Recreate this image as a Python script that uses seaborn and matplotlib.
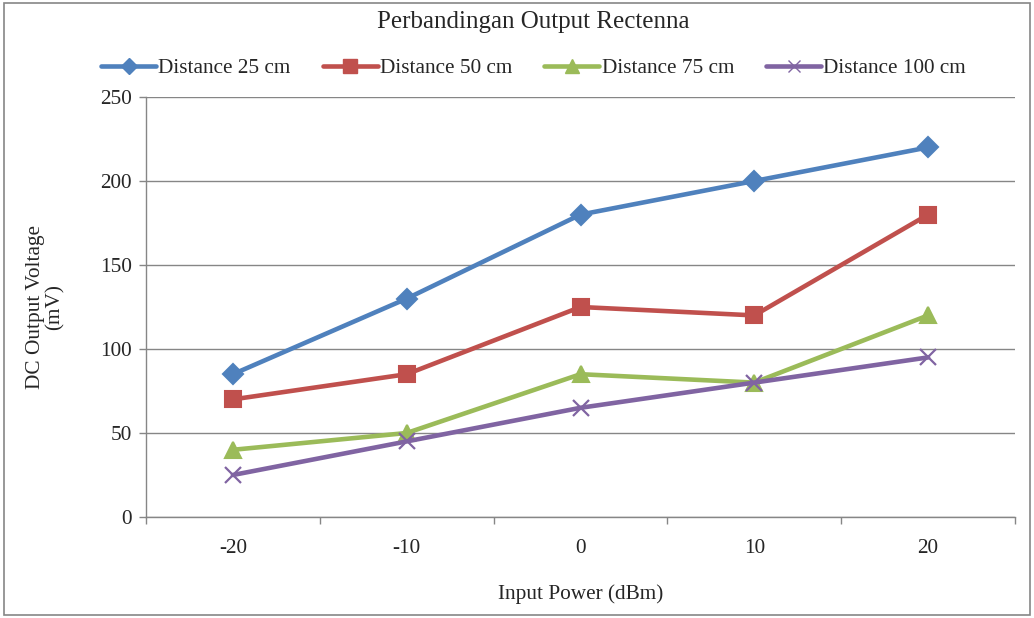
import matplotlib
matplotlib.use("Agg")
import matplotlib.pyplot as plt
import seaborn as sns
import pandas as pd
from matplotlib.lines import Line2D
from matplotlib.patches import Rectangle
from matplotlib.ticker import FixedLocator

categories = ["-20", "-10", "0", "10", "20"]
series_names = ["Distance 25 cm", "Distance 50 cm", "Distance 75 cm", "Distance 100 cm"]
d25 = [85, 130, 180, 200, 220]
d50 = [70, 85, 125, 120, 180]
d75 = [40, 50, 85, 80, 120]
d100 = [25, 45, 65, 80, 95]
y_ticks = [0, 50, 100, 150, 200, 250]

colors = ["#4F81BD", "#C0504D", "#9BBB59", "#8064A2"]
markers = ["D", "s", "^", "x"]
msizes = [10, 12, 12, 11]

sns.set_theme(style="white")
plt.rcParams['font.family'] = ['Liberation Serif', 'DejaVu Serif']

rows = []
for name, vals in zip(series_names, [d25, d50, d75, d100]):
    for i, (c, v) in enumerate(zip(categories, vals)):
        rows.append({"pos": i, "cat": c, "value": v, "series": name})
df = pd.DataFrame(rows)

fs = 15.3

fig = plt.figure(figsize=(10.34, 6.18), dpi=100)
ax = fig.add_axes([146/1034, 1-517/618, (1015-146)/1034, (517-97)/618])

for name, col, mk, ms in zip(series_names, colors, markers, msizes):
    sub = df[df["series"] == name]
    sns.lineplot(data=sub, x="pos", y="value", ax=ax, color=col, linewidth=3.3,
                 marker=mk, markersize=ms, markeredgecolor=col, markerfacecolor=col,
                 markeredgewidth=1.5 if mk != "x" else 1.6, legend=False)

ax.set_xlim(-0.5, 4.5)
ax.set_ylim(0, 250)
ax.set_yticks(y_ticks)
ax.set_yticklabels([str(t) for t in y_ticks], fontsize=fs)
ax.set_xticks(range(len(categories)))
ax.set_xticklabels(categories, fontsize=fs)
ax.tick_params(axis='x', which='major', length=0, pad=16)
ax.xaxis.set_minor_locator(FixedLocator([i - 0.5 for i in range(len(categories) + 1)]))
ax.tick_params(axis='x', which='minor', length=5, color="#868686", width=1, direction='out', bottom=True)
ax.tick_params(axis='y', which='major', length=5, color="#868686", width=1, direction='out', left=True, pad=5)
ax.grid(axis='y', color="#868686", linewidth=1)
ax.set_axisbelow(True)
for s in ["top", "right"]:
    ax.spines[s].set_visible(False)
for s in ["left", "bottom"]:
    ax.spines[s].set_color("#868686")
    ax.spines[s].set_linewidth(1)

ax.set_xlabel("Input Power (dBm)", fontsize=fs, labelpad=19)
ax.set_ylabel("DC Output Voltage\n(mV)", fontsize=fs, labelpad=26, linespacing=1.0)
fig.text(0.516, 1-22/618, "Perbandingan Output Rectenna", ha="center", va="center", fontsize=18)

handles = [Line2D([0], [0], color=c, lw=3.3, marker=m, markersize=ms*0.8,
                  markeredgecolor=c, markerfacecolor=c) for c, m, ms in zip(colors, markers, msizes)]
fig.legend(handles, series_names, loc="center", bbox_to_anchor=(0.516, 1-68/618), ncol=4,
           frameon=False, fontsize=fs, handlelength=2.6, handletextpad=0.1, columnspacing=1.5)

fig.add_artist(Rectangle((0.004, 0.005), 0.992, 0.99, transform=fig.transFigure,
                         fill=False, edgecolor="#868686", linewidth=1.2))

fig.savefig("out.png", dpi=100)
